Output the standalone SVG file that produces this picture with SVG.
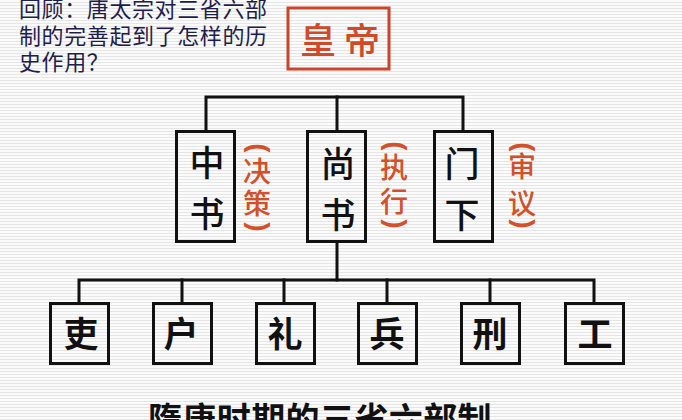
<svg xmlns="http://www.w3.org/2000/svg" width="682" height="420" viewBox="0 0 682 420">
<defs>
<pattern id="stripes" width="4" height="3" patternUnits="userSpaceOnUse">
<rect width="4" height="3" fill="#fbfbfb"/>
<rect y="2" width="4" height="1" fill="#e6e6e6"/>
</pattern>
</defs>
<style>
.q{font-family:"Noto Sans CJK SC","Liberation Sans",sans-serif;font-size:22px;fill:#1e1e4e;letter-spacing:0.6px}
.box{fill:none;stroke:#111;stroke-width:3}
.emp{fill:none;stroke:#c9442a;stroke-width:3}
.empt{font-family:"Noto Sans CJK SC",sans-serif;font-size:36px;fill:#d2492a;text-anchor:middle;font-weight:500}
.mt{font-family:"Noto Sans CJK SC",sans-serif;font-size:35px;fill:#111;text-anchor:middle;font-weight:500}
.rt{font-family:"Noto Sans CJK SC",sans-serif;font-size:28px;fill:#d2512a;text-anchor:middle;font-weight:500}
.par{font-family:"Liberation Sans",sans-serif;font-size:28px;fill:#d2512a;text-anchor:middle;font-weight:700}
.bt{font-family:"Noto Sans CJK SC",sans-serif;font-size:35px;fill:#111;text-anchor:middle;font-weight:700}
.title{font-family:"Noto Sans CJK SC",sans-serif;font-size:34px;fill:#111;text-anchor:middle;font-weight:700;letter-spacing:0.4px}
.ln{fill:none;stroke:#111;stroke-width:3;stroke-linejoin:miter;stroke-linecap:square}
</style>
<rect width="682" height="420" fill="url(#stripes)"/>

<g id="question">
<text class="q" x="19" y="17">回顾：唐太宗对三省六部</text>
<text class="q" x="19" y="44">制的完善起到了怎样的历</text>
<text class="q" x="19" y="70">史作用？</text>
</g>

<g id="connectors">
<path class="ln" d="M206 131 V97 H463 V131"/>
<path class="ln" d="M337 97 V131"/>
<path class="ln" d="M337 242 V280"/>
<path class="ln" d="M79 303 V280 H594 V303"/>
<path class="ln" d="M182 280 V303 M284 280 V303 M387 280 V303 M490 280 V303"/>
</g>

<g id="emperor">
<rect class="emp" x="288" y="8" width="101" height="61"/>
<text class="empt" x="318" y="54">皇</text>
<text class="empt" x="362" y="54">帝</text>
</g>

<g id="zhongshu">
<rect class="box" x="176.5" y="131.5" width="58" height="110"/>
<text class="mt" x="207" y="176">中</text>
<text class="mt" x="207" y="227">书</text>
</g>
<g id="zhongshu-note">
<text class="par" transform="translate(257,148) rotate(90)" x="0" y="7.5">(</text>
<text class="rt" x="257" y="182">决</text>
<text class="rt" x="257" y="214">策</text>
<text class="par" transform="translate(257,227) rotate(90)" x="0" y="7.5">)</text>
</g>

<g id="shangshu">
<rect class="box" x="307.5" y="131.5" width="58" height="110"/>
<text class="mt" x="338" y="177">尚</text>
<text class="mt" x="338" y="228">书</text>
</g>
<g id="shangshu-note">
<text class="par" transform="translate(394,146) rotate(90)" x="0" y="7.5">(</text>
<text class="rt" x="394" y="178">执</text>
<text class="rt" x="394" y="212">行</text>
<text class="par" transform="translate(394,224) rotate(90)" x="0" y="7.5">)</text>
</g>

<g id="menxia">
<rect class="box" x="434.5" y="131.5" width="58" height="110"/>
<text class="mt" x="462" y="177">门</text>
<text class="mt" x="462" y="228">下</text>
</g>
<g id="menxia-note">
<text class="par" transform="translate(522,147) rotate(90)" x="0" y="7.5">(</text>
<text class="rt" x="522" y="177">审</text>
<text class="rt" x="522" y="214">议</text>
<text class="par" transform="translate(522,224) rotate(90)" x="0" y="7.5">)</text>
</g>

<g id="li-bu">
<rect class="box" x="50.5" y="303.5" width="58" height="60"/>
<text class="bt" x="81" y="347">吏</text>
</g>
<g id="hu-bu">
<rect class="box" x="153.5" y="303.5" width="58" height="60"/>
<text class="bt" x="181" y="347">户</text>
</g>
<g id="li-bu2">
<rect class="box" x="256.5" y="303.5" width="58" height="60"/>
<text class="bt" x="285" y="347">礼</text>
</g>
<g id="bing-bu">
<rect class="box" x="358.5" y="303.5" width="58" height="60"/>
<text class="bt" x="387" y="347">兵</text>
</g>
<g id="xing-bu">
<rect class="box" x="461.5" y="303.5" width="58" height="60"/>
<text class="bt" x="490" y="347">刑</text>
</g>
<g id="gong-bu">
<rect class="box" x="565.5" y="303.5" width="58" height="60"/>
<text class="bt" x="595" y="347">工</text>
</g>

<g id="title">
<text class="title" x="320" y="432">隋唐时期的三省六部制</text>
</g>
</svg>
